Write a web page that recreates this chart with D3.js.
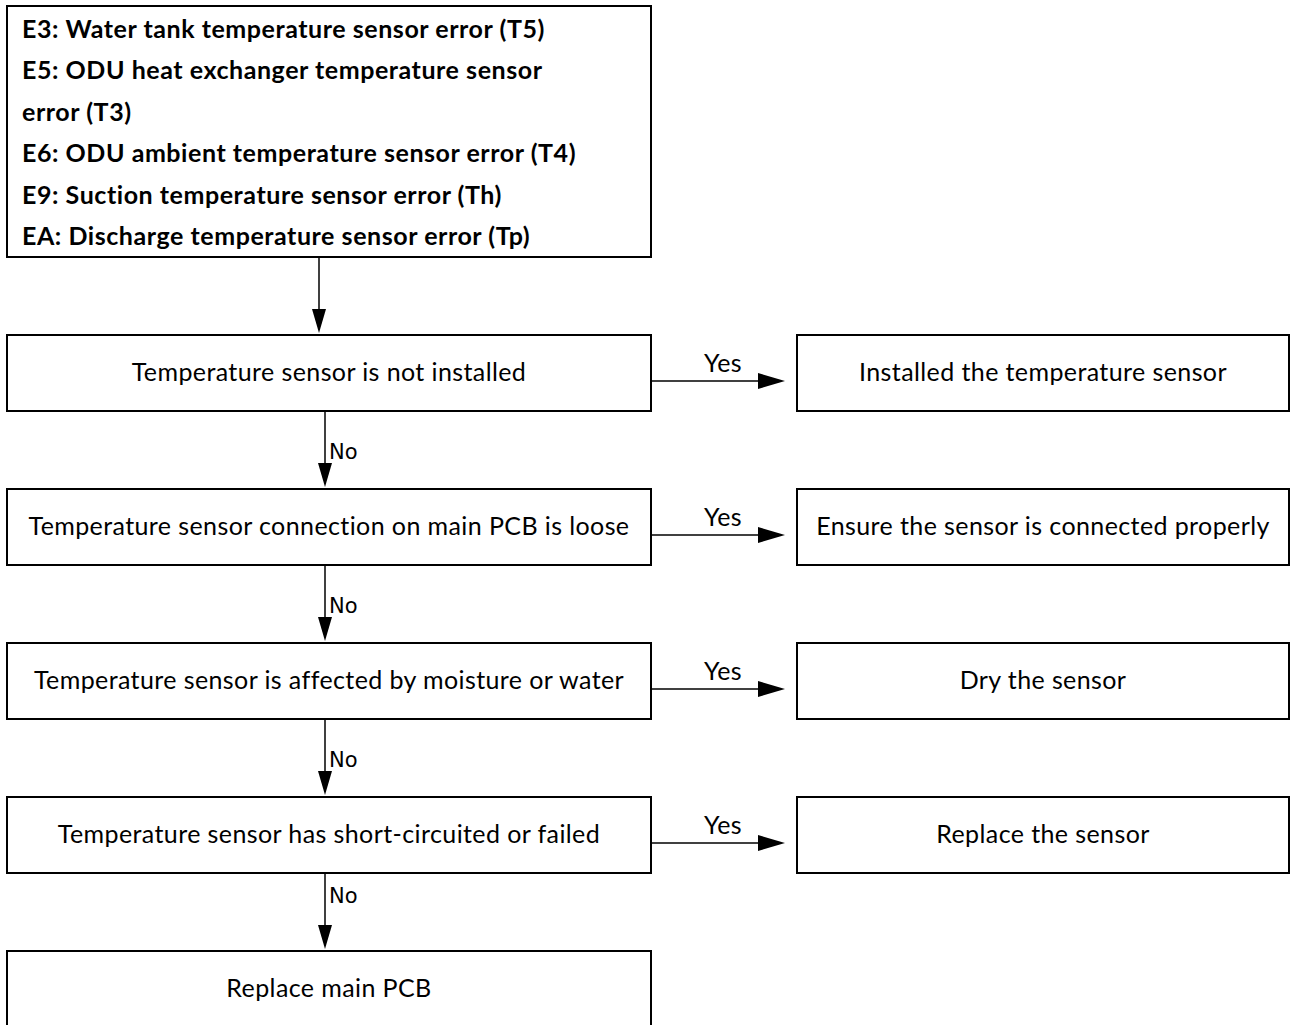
<!DOCTYPE html>
<html>
<head>
<meta charset="utf-8">
<script src="https://cdn.jsdelivr.net/npm/d3@7"></script>
<style>
  html, body { margin: 0; padding: 0; background: #fff; }
  svg { display: block; }
</style>
</head>
<body>
<div id="flow"></div>
<script>
"use strict";
// error codes listed in the header box
const errorLines = [
  "E3: Water tank temperature sensor error (T5)",
  "E5: ODU heat exchanger temperature sensor",
  "error (T3)",
  "E6: ODU ambient temperature sensor error (T4)",
  "E9: Suction temperature sensor error (Th)",
  "EA: Discharge temperature sensor error (Tp)"
];
// checks down the left column (last one is the final action)
const checks = [
  "Temperature sensor is not installed",
  "Temperature sensor connection on main PCB is loose",
  "Temperature sensor is affected by moisture or water",
  "Temperature sensor has short-circuited or failed",
  "Replace main PCB"
];
// action for the "Yes" branch of each check
const actions = [
  "Installed the temperature sensor",
  "Ensure the sensor is connected properly",
  "Dry the sensor",
  "Replace the sensor"
];
const yesLabel = "Yes";
const noLabel = "No";

const W = 1290, H = 1025;
const boxH = 76;
const FONT = "Lato, 'Open Sans', sans-serif";

function drawFlow(containerId = "flow") {
  const svg = d3.select(`#${containerId}`)
    .append("svg")
    .attr("width", W)
    .attr("height", H);

  // row index -> top of box
  const y = d3.scaleLinear().domain([0, 1]).range([335, 489]);
  // column positions
  const colX = d3.scaleOrdinal().domain(["left", "right"]).range([7, 797]);
  const colW = d3.scaleOrdinal().domain(["left", "right"]).range([644, 492]);
  const lineY = d3.scaleLinear().domain([0, 1]).range([37.5, 79]);

  const black = "#000";

  // header box
  svg.append("rect")
    .attr("x", 7).attr("y", 6)
    .attr("width", 644).attr("height", 251)
    .attr("fill", "none").attr("stroke", black).attr("stroke-width", 2);

  svg.append("g")
    .selectAll("text")
    .data(errorLines)
    .enter()
    .append("text")
    .attr("x", 22)
    .attr("y", (d, i) => lineY(i))
    .attr("font-family", FONT)
    .attr("font-weight", "bold")
    .attr("font-size", 25)
    .attr("letter-spacing", 0.55)
    .attr("fill", black)
    .text(d => d);

  // arrowhead helpers
  function downHead(g, x, tip) {
    g.append("path")
      .attr("d", `M${x - 7},${tip - 24}L${x + 7},${tip - 24}L${x},${tip}Z`)
      .attr("fill", black);
  }
  function rightHead(g, tip, yy) {
    g.append("path")
      .attr("d", `M${tip - 27},${yy - 8}L${tip - 27},${yy + 8}L${tip},${yy}Z`)
      .attr("fill", black);
  }

  const links = svg.append("g");

  // header -> first check
  links.append("line")
    .attr("x1", 319).attr("x2", 319)
    .attr("y1", 257).attr("y2", y(0) - 12)
    .attr("stroke", black).attr("stroke-width", 1.5);
  downHead(links, 319, y(0) - 2);

  // left column boxes
  const left = svg.append("g")
    .selectAll("g")
    .data(checks)
    .enter()
    .append("g");

  left.append("rect")
    .attr("x", colX("left"))
    .attr("y", (d, i) => y(i))
    .attr("width", colW("left"))
    .attr("height", boxH)
    .attr("fill", "none").attr("stroke", black).attr("stroke-width", 2);

  left.append("text")
    .attr("x", colX("left") + colW("left") / 2)
    .attr("y", (d, i) => y(i) + 46)
    .attr("text-anchor", "middle")
    .attr("font-family", FONT)
    .attr("font-size", 25)
    .attr("letter-spacing", 0.4)
    .attr("fill", black)
    .text(d => d);

  // right column boxes
  const right = svg.append("g")
    .selectAll("g")
    .data(actions)
    .enter()
    .append("g");

  right.append("rect")
    .attr("x", colX("right"))
    .attr("y", (d, i) => y(i))
    .attr("width", colW("right"))
    .attr("height", boxH)
    .attr("fill", "none").attr("stroke", black).attr("stroke-width", 2);

  right.append("text")
    .attr("x", colX("right") + colW("right") / 2)
    .attr("y", (d, i) => y(i) + 46)
    .attr("text-anchor", "middle")
    .attr("font-family", FONT)
    .attr("font-size", 25)
    .attr("letter-spacing", 0.4)
    .attr("fill", black)
    .text(d => d);

  // Yes arrows
  actions.forEach((a, i) => {
    const yy = y(i) + 46;
    links.append("line")
      .attr("x1", 651).attr("x2", 765)
      .attr("y1", yy).attr("y2", yy)
      .attr("stroke", black).attr("stroke-width", 1.5);
    rightHead(links, 785, yy);
    links.append("text")
      .attr("x", 723).attr("y", yy - 9)
      .attr("text-anchor", "middle")
      .attr("font-family", FONT)
      .attr("font-size", 25)
      .attr("letter-spacing", 0.4)
      .attr("fill", black)
      .text(yesLabel);
  });

  // No arrows
  d3.range(checks.length - 1).forEach(i => {
    const x = 325;
    const top = y(i) + boxH;
    const tip = y(i + 1) - 2;
    links.append("line")
      .attr("x1", x).attr("x2", x)
      .attr("y1", top).attr("y2", tip - 12)
      .attr("stroke", black).attr("stroke-width", 1.5);
    downHead(links, x, tip);
    const last = i === checks.length - 2;
    links.append("text")
      .attr("x", x + 4)
      .attr("y", top + (last ? 30 : 48))
      .attr("font-family", "'DejaVu Sans', sans-serif")
      .attr("font-size", 21)
      .attr("fill", black)
      .text(noLabel);
  });
}

document.addEventListener('DOMContentLoaded', () => {
  drawFlow();
});
</script>
</body>
</html>
